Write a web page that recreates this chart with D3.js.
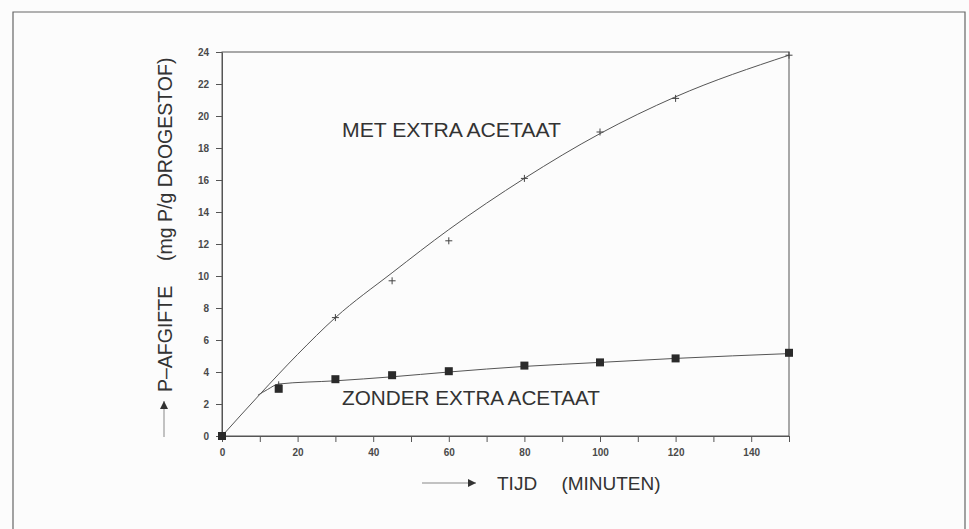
<!DOCTYPE html>
<html lang="nl">
<head>
<meta charset="UTF-8">
<title>P-afgifte</title>
<script src="https://d3js.org/d3.v7.min.js"></script>
<style>
    body { margin: 0; background: #fcfcfc; }
    svg { display: block; }
    text { font-family: "Liberation Sans", Arial, sans-serif; fill: #333; }
    .tick text { font-size: 10px; font-weight: bold; fill: #4a4a4a; }
    .tick line, .domain { stroke: #555; }
</style>
</head>
<body>
<div id="chart"></div>
<script>
    // measured points
    const tijd = [0, 15, 30, 45, 60, 80, 100, 120, 150];
    const metExtra = [0, 3.2, 7.4, 9.7, 12.2, 16.1, 19.0, 21.1, 23.8];
    const zonderExtra = [0, 2.95, 3.55, 3.8, 4.05, 4.4, 4.6, 4.85, 5.2];

    // fitted curves as drawn in the figure
    const metFitX = [0, 10, 20, 30, 45, 60, 80, 100, 120, 150];
    const metFitY = [0, 2.6, 5.1, 7.4, 10.2, 12.9, 16.1, 18.9, 21.2, 23.8];
    const zonderFitX = [9.5, 12, 15, 30, 45, 60, 80, 100, 120, 150];
    const zonderFitY = [2.55, 2.9, 3.25, 3.45, 3.7, 4.0, 4.35, 4.6, 4.85, 5.15];

    const xTicks = [0, 20, 40, 60, 80, 100, 120, 140];
    const yTicks = [0, 2, 4, 6, 8, 10, 12, 14, 16, 18, 20, 22, 24];

    const W = 969, H = 529;
    const svg = d3.select('#chart').append('svg')
        .attr('width', W).attr('height', H);

    // outer frame
    svg.append('path')
        .attr('d', `M13,${H} L13,12 L965,12 L965,${H}`)
        .attr('fill', 'none').attr('stroke', '#666').attr('stroke-width', 1.2);

    const x = d3.scaleLinear().domain([0, 150]).range([222, 789]);
    const y = d3.scaleLinear().domain([0, 24]).range([436, 52]);

    // box
    svg.append('rect')
        .attr('x', x(0)).attr('y', y(24))
        .attr('width', x(150) - x(0)).attr('height', y(0) - y(24))
        .attr('fill', 'none').attr('stroke', '#555');

    const xAxis = svg.append('g')
        .attr('transform', `translate(0,${y(0)})`)
        .call(d3.axisBottom(x).tickValues(d3.range(0, 151, 10))
            .tickSize(6).tickSizeOuter(0)
            .tickFormat(d => xTicks.includes(d) ? d : ''));
    xAxis.selectAll('.tick text').attr('dy', '1.1em');

    svg.append('g')
        .attr('transform', `translate(${x(0)},0)`)
        .call(d3.axisLeft(y).tickValues(yTicks).tickSize(6).tickSizeOuter(0).tickPadding(7));

    const line = d3.line().x(d => x(d[0])).y(d => y(d[1])).curve(d3.curveMonotoneX);

    svg.append('path')
        .attr('d', line(d3.zip(metFitX, metFitY)))
        .attr('fill', 'none').attr('stroke', '#555').attr('stroke-width', 1);
    svg.append('path')
        .attr('d', line(d3.zip(zonderFitX, zonderFitY)))
        .attr('fill', 'none').attr('stroke', '#555').attr('stroke-width', 1);

    // + markers
    svg.append('g').selectAll('path')
        .data(d3.zip(tijd, metExtra).slice(1))
        .join('path')
        .attr('d', d => `M${x(d[0]) - 3.5},${y(d[1])}h7M${x(d[0])},${y(d[1]) - 3.5}v7`)
        .attr('stroke', '#444').attr('stroke-width', 1);

    // square markers
    svg.append('g').selectAll('rect')
        .data(d3.zip(tijd, zonderExtra))
        .join('rect')
        .attr('x', d => x(d[0]) - 4).attr('y', d => y(d[1]) - 4)
        .attr('width', 8).attr('height', 8)
        .attr('fill', '#2a2a2a');

    // series labels
    svg.append('text').attr('x', 342).attr('y', 137)
        .attr('font-size', 19.5)
        .attr('textLength', 219).attr('lengthAdjust', 'spacingAndGlyphs')
        .text('MET EXTRA ACETAAT');
    svg.append('text').attr('x', 342).attr('y', 405)
        .attr('font-size', 19.5)
        .attr('textLength', 258).attr('lengthAdjust', 'spacingAndGlyphs')
        .text('ZONDER EXTRA ACETAAT');

    // axis titles with arrows
    svg.append('defs').append('marker')
        .attr('id', 'arr').attr('viewBox', '0 0 10 10')
        .attr('refX', 10).attr('refY', 5)
        .attr('markerWidth', 18).attr('markerHeight', 8)
        .attr('markerUnits', 'userSpaceOnUse').attr('orient', 'auto')
        .append('path').attr('d', 'M0,0L10,5L0,10z').attr('fill', '#333');

    svg.append('line')
        .attr('x1', 422).attr('y1', 483).attr('x2', 476).attr('y2', 483)
        .attr('stroke', '#888').attr('marker-end', 'url(#arr)');
    svg.append('text').attr('x', 497).attr('y', 490)
        .attr('font-size', 19)
        .text('TIJD\u2003 (MINUTEN)');

    svg.append('line')
        .attr('x1', 164).attr('y1', 437).attr('x2', 164).attr('y2', 401)
        .attr('stroke', '#888').attr('marker-end', 'url(#arr)');
    svg.append('text')
        .attr('transform', 'translate(172,392) rotate(-90)')
        .attr('font-size', 19.5)
        .text('P\u2013AFGIFTE\u2003 (mg P/g DROGESTOF)');
</script>
</body>
</html>
